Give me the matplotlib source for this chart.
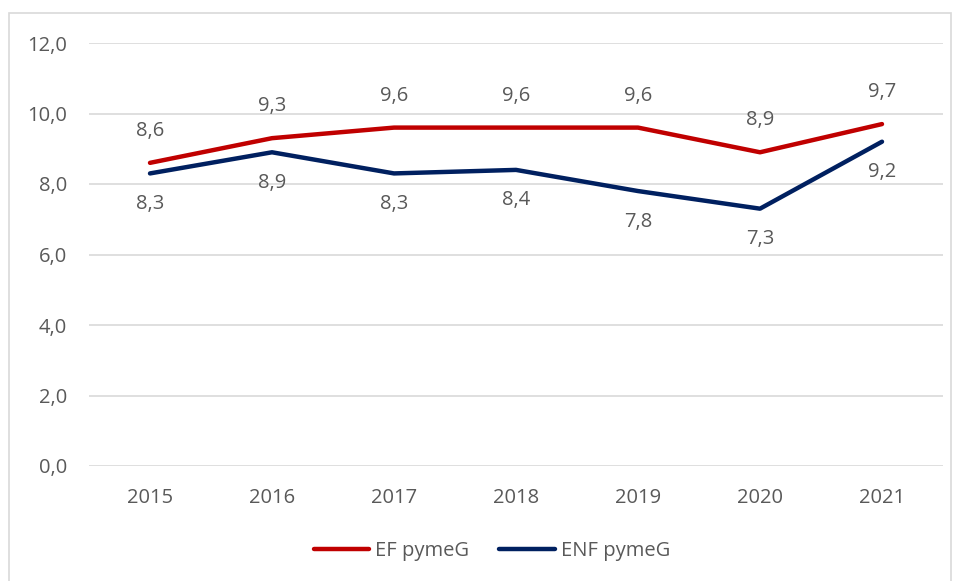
import matplotlib
matplotlib.use("Agg")
import matplotlib.pyplot as plt
from matplotlib.patches import Rectangle

years = ["2015", "2016", "2017", "2018", "2019", "2020", "2021"]
ef_pymeg = [8.6, 9.3, 9.6, 9.6, 9.6, 8.9, 9.7]
enf_pymeg = [8.3, 8.9, 8.3, 8.4, 7.8, 7.3, 9.2]
y_ticks = [0, 2, 4, 6, 8, 10, 12]

RED = "#C00000"
NAVY = "#002060"
TEXT = "#595959"
GRID = "#D9D9D9"
FS = 14.5

plt.rcParams["font.family"] = ["Open Sans", "DejaVu Sans"]

fig = plt.figure(figsize=(9.55, 5.81), dpi=100)
fig.patches.append(Rectangle((9 / 955, -0.01), 942 / 955, 1 - 13 / 581 + 0.01,
                             transform=fig.transFigure, fill=False,
                             edgecolor=GRID, linewidth=1.2))

ax = fig.add_axes([89 / 955, 1 - 466 / 581, (943 - 89) / 955, (466 - 43) / 581])
x = list(range(len(years)))

ax.plot(x, ef_pymeg, color=RED, lw=3.2, solid_capstyle="round", label="EF pymeG", zorder=3)
ax.plot(x, enf_pymeg, color=NAVY, lw=3.2, solid_capstyle="round", label="ENF pymeG", zorder=3)

for xi, v in zip(x, ef_pymeg):
    ax.annotate(f"{v:.1f}".replace(".", ","), (xi, v), xytext=(0, 23),
                textcoords="offset points", ha="center", va="center",
                fontsize=FS, color=TEXT)
for xi, v in zip(x, enf_pymeg):
    ax.annotate(f"{v:.1f}".replace(".", ","), (xi, v), xytext=(0, -22),
                textcoords="offset points", ha="center", va="center",
                fontsize=FS, color=TEXT)

ax.set_xlim(-0.5, len(years) - 0.5)
ax.set_ylim(0, 12)
ax.set_yticks(y_ticks)
ax.set_yticklabels([f"{t:.1f}".replace(".", ",") for t in y_ticks])
ax.set_xticks(x)
ax.set_xticklabels(years)
ax.tick_params(axis="both", length=0, labelsize=FS, labelcolor=TEXT)
ax.tick_params(axis="y", pad=16)
ax.tick_params(axis="x", pad=16)
ax.grid(axis="y", color=GRID, lw=1.2)
ax.set_axisbelow(True)
for s in ax.spines.values():
    s.set_visible(False)

fig.legend(loc="center", bbox_to_anchor=(492 / 955, 1 - 551 / 581), ncol=2, frameon=False,
           fontsize=FS, labelcolor=TEXT, handlelength=2.75, handletextpad=0.3,
           columnspacing=1.5)

fig.savefig("out.png", dpi=100)
